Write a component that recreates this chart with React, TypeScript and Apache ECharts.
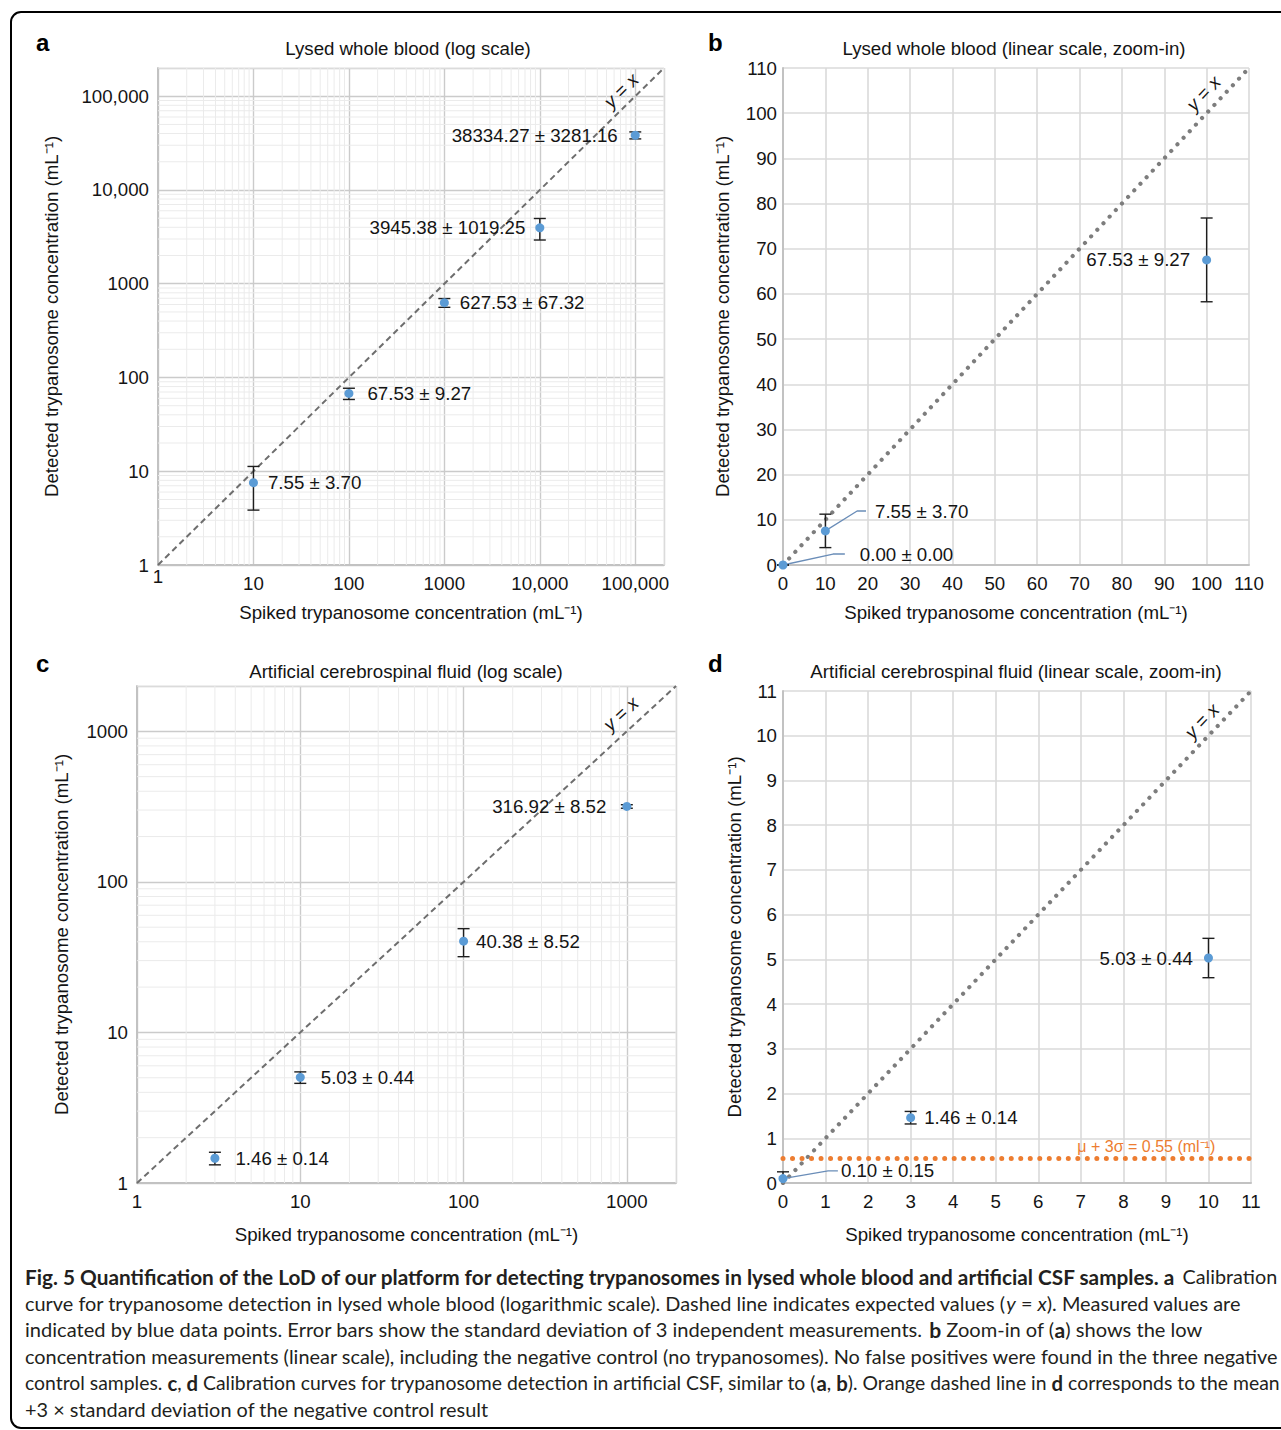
import React, { useEffect, useRef } from 'react';
import * as echarts from 'echarts';

const W = 1281;
const H = 1430;
const FONT = '"Liberation Sans", Arial, Helvetica, sans-serif';
const CAPTION_FONT = 'Lato, "Noto Sans", sans-serif';
const FS = 18.7;

// ---------------- data ----------------
// a: lysed whole blood, log scale
const bloodLogSpiked = [10, 100, 1000, 10000, 100000];
const bloodLogMean = [7.55, 67.53, 627.53, 3945.38, 38334.27];
const bloodLogSd = [3.7, 9.27, 67.32, 1019.25, 3281.16];
// b: lysed whole blood, linear zoom-in
const bloodLinSpiked = [0, 10, 100];
const bloodLinMean = [0.0, 7.55, 67.53];
const bloodLinSd = [0.0, 3.7, 9.27];
// c: artificial CSF, log scale
const csfLogSpiked = [3, 10, 100, 1000];
const csfLogMean = [1.46, 5.03, 40.38, 316.92];
const csfLogSd = [0.14, 0.44, 8.52, 8.52];
// d: artificial CSF, linear zoom-in
const csfLinSpiked = [0, 3, 10];
const csfLinMean = [0.1, 1.46, 5.03];
const csfLinSd = [0.15, 0.14, 0.44];
const csfThreshold = 0.55;

// axis ranges / ticks
const bloodLogRange = [1, 200000];
const bloodLinRange = [0, 110];
const csfLogRange = [1, 2000];
const csfLinRange = [0, 11];
const bloodLinStep = 10;
const csfLinStep = 1;

// texts
const panelLetters = ['a', 'b', 'c', 'd'];
const panelTitles = [
  'Lysed whole blood (log scale)',
  'Lysed whole blood (linear scale, zoom-in)',
  'Artificial cerebrospinal fluid (log scale)',
  'Artificial cerebrospinal fluid (linear scale, zoom-in)',
];
const xTitle = 'Spiked trypanosome concentration (mL\u207B\u00B9)';
const yTitle = 'Detected trypanosome concentration (mL\u207B\u00B9)';
const thresholdText = '\u03BC + 3\u03C3 = 0.55 (ml\u207B\u00B9)';
const captionLines = [
  '{b|Fig. 5 Quantification of the LoD of our platform for detecting trypanosomes in lysed whole blood and artificial CSF samples. a} Calibration',
  'curve for trypanosome detection in lysed whole blood (logarithmic scale). Dashed line indicates expected values ({i|y} = {i|x}). Measured values are',
  'indicated by blue data points. Error bars show the standard deviation of 3 independent measurements. {b|b} Zoom-in of ({b|a}) shows the low',
  'concentration measurements (linear scale), including the negative control (no trypanosomes). No false positives were found in the three negative',
  'control samples. {b|c}, {b|d} Calibration curves for trypanosome detection in artificial CSF, similar to ({b|a}, {b|b}). Orange dashed line in {b|d} corresponds to the mean',
  '+3 \u00D7 standard deviation of the negative control result',
];
// horizontal fit of each caption line (emulates the justified typesetting)
const captionFit = [0.995, 1, 1.01, 1, 0.974, 1];

// ---------------- layout / style config ----------------
const panels = [
  {
    kind: 'log', spiked: bloodLogSpiked, mean: bloodLogMean, sd: bloodLogSd, range: bloodLogRange, step: 0,
    grid: { left: 158, top: 68, width: 506, height: 497 },
    xNameGap: 38, yNameGap: 97, yLabelMargin: 9, raiseOrigin: true,
    sides: ['right', 'right', 'right', 'left', 'left'], dists: [10, 14, 11, 10, 13],
    diagAt: 90000, diagGap: 14, leaders: [] as any[],
    title: [408, 48], letter: [36, 42],
  },
  {
    kind: 'linear', spiked: bloodLinSpiked, mean: bloodLinMean, sd: bloodLinSd, range: bloodLinRange, step: bloodLinStep,
    grid: { left: 783, top: 68, width: 466, height: 497 },
    xNameGap: 38, yNameGap: 51, yLabelMargin: 6, raiseOrigin: false,
    sides: [null, null, 'left'], dists: [0, 0, 12],
    diagAt: 102, diagGap: 16,
    leaders: [
      { point: 0, bend: [11.8, 2.43], end: [14.6, 2.43], gap: 15, text: '0.00 \u00B1 0.00' },
      { point: 1, bend: [17.5, 11.95], end: [19.6, 11.95], gap: 9, text: '7.55 \u00B1 3.70' },
    ],
    title: [1014, 48], letter: [708, 42],
  },
  {
    kind: 'log', spiked: csfLogSpiked, mean: csfLogMean, sd: csfLogSd, range: csfLogRange, step: 0,
    grid: { left: 137, top: 686, width: 539, height: 497 },
    xNameGap: 42, yNameGap: 66, yLabelMargin: 9, raiseOrigin: false,
    sides: ['right', 'right', 'right', 'left'], dists: [16, 16, 8, 16],
    diagAt: 1080, diagGap: 17, leaders: [] as any[],
    title: [406, 671], letter: [36, 663],
  },
  {
    kind: 'linear', spiked: csfLinSpiked, mean: csfLinMean, sd: csfLinSd, range: csfLinRange, step: csfLinStep,
    grid: { left: 783, top: 691, width: 468, height: 492 },
    xNameGap: 42, yNameGap: 39, yLabelMargin: 6, raiseOrigin: false,
    sides: [null, 'right', 'left'], dists: [0, 9, 11],
    diagAt: 10.1, diagGap: 15,
    leaders: [{ point: 0, bend: [1.06, 0.27], end: [1.29, 0.27], gap: 3, text: '0.10 \u00B1 0.15' }],
    title: [1016, 671], letter: [708, 663],
  },
];

const BLUE = '#5b9bd5';
const INK = '#141414';

const logFmt = (v: number) => {
  const r = Math.round(v);
  if (r <= 0) return '';
  const e = Math.log10(r);
  if (Math.abs(e - Math.round(e)) > 1e-9) return '';
  return r >= 10000 ? r.toLocaleString('en-US') : String(r);
};

function minorValues(range: number[]) {
  const out: number[] = [];
  for (let d = 0; Math.pow(10, d) < range[1]; d++) {
    for (let k = 2; k <= 9; k++) {
      const v = k * Math.pow(10, d);
      if (v > range[0] && v <= range[1]) out.push(v);
    }
  }
  return out;
}

function buildOption() {
  const series: any[] = [];
  const xAxes: any[] = [];
  const yAxes: any[] = [];
  const grids: any[] = [];

  panels.forEach((P, i) => {
    const isLog = P.kind === 'log';
    grids.push({ ...P.grid, containLabel: false, outerBoundsMode: 'none' });
    const axisBase = (dim: 'x' | 'y') => {
      const a: any = {
        type: isLog ? 'log' : 'value',
        gridIndex: i,
        min: P.range[0],
        max: P.range[1],
        axisLine: { show: true, onZero: false, lineStyle: { color: '#c2c2c2', width: 2 } },
        axisTick: { show: false },
        splitLine: { show: true, lineStyle: { color: isLog ? '#cbcbcb' : '#dadada', width: isLog ? 1.4 : 1.6 } },
        axisLabel: {
          fontSize: FS, color: INK, fontFamily: FONT,
          margin: dim === 'x' ? 9 : P.yLabelMargin,
          showMinLabel: true, showMaxLabel: true,
        },
        name: dim === 'x' ? xTitle : yTitle,
        nameLocation: 'middle',
        nameGap: dim === 'x' ? P.xNameGap : P.yNameGap,
        nameTextStyle: { fontSize: FS, color: INK, fontFamily: FONT },
        nameMoveOverlap: false,
      };
      if (isLog) {
        a.logBase = 10;
        if (dim === 'x' && P.raiseOrigin) {
          a.axisLabel.formatter = (v: number) => {
            const s = logFmt(v);
            return Math.round(v) === 1 ? `{lo|${s}}` : s;
          };
          a.axisLabel.rich = { lo: { lineHeight: 4, fontSize: FS, fontFamily: FONT, color: INK } };
        } else {
          a.axisLabel.formatter = logFmt;
        }
      } else {
        a.interval = P.step;
      }
      return a;
    };
    xAxes.push(axisBase('x'));
    yAxes.push(axisBase('y'));

    const ax = { xAxisIndex: i, yAxisIndex: i };

    // minor grid lines for log panels
    if (isLog) {
      const mv = minorValues(P.range);
      const data = [
        ...mv.map((v) => [v, P.range[0], 0]),
        ...mv.map((v) => [P.range[0], v, 1]),
      ];
      series.push({
        type: 'custom', ...ax, silent: true, z: 1,
        encode: { x: 0, y: 1 },
        data,
        renderItem: (params: any, api: any) => {
          const cs = params.coordSys;
          const p = api.coord([api.value(0), api.value(1)]);
          const vertical = api.value(2) === 0;
          const shape = vertical
            ? { x1: p[0], y1: cs.y, x2: p[0], y2: cs.y + cs.height }
            : { x1: cs.x, y1: p[1], x2: cs.x + cs.width, y2: p[1] };
          return { type: 'line', shape, style: { stroke: '#ebebeb', lineWidth: 1 }, silent: true };
        },
      });
    }

    // y = x reference line
    series.push({
      type: 'line', ...ax, silent: true, z: 2, symbol: 'none',
      data: [[P.range[0], P.range[0]], [P.range[1], P.range[1]]],
      lineStyle: isLog
        ? { color: '#6e6e6e', width: 2, type: [6, 4] }
        : { color: '#7d7d7d', width: 4.2, type: [0.01, 9], cap: 'round' },
    });

    // leader lines
    P.leaders.forEach((L: any) => {
      series.push({
        type: 'line', ...ax, silent: true, z: 3, symbol: 'none',
        data: [[P.spiked[L.point], P.mean[L.point]], L.bend, L.end],
        lineStyle: { color: '#6a8db8', width: 1.3 },
      });
    });

    // threshold line (panel d)
    if (i === 3) {
      series.push({
        type: 'line', ...ax, silent: true, z: 2, symbol: 'none',
        data: [[P.range[0], csfThreshold], [P.range[1], csfThreshold]],
        lineStyle: { color: '#ed7d31', width: 5, type: [0.01, 9.5], cap: 'round' },
      });
    }

    // error bars
    const clampMin = P.range[0];
    series.push({
      type: 'custom', ...ax, z: 4, silent: true,
      encode: { x: 0, y: 1 },
      data: P.spiked.map((x, k) => [x, P.mean[k], P.sd[k]]),
      renderItem: (params: any, api: any) => {
        const x = api.value(0);
        const y = api.value(1);
        const e = api.value(2);
        const loRaw = y - e;
        const lo = Math.max(loRaw, clampMin);
        const pH = api.coord([x, y + e]);
        const pL = api.coord([x, lo]);
        const w = 6;
        const st = { stroke: '#1e1e1e', lineWidth: 1.4 };
        const children: any[] = [
          { type: 'line', shape: { x1: pH[0], y1: pH[1], x2: pL[0], y2: pL[1] }, style: st },
          { type: 'line', shape: { x1: pH[0] - w, y1: pH[1], x2: pH[0] + w, y2: pH[1] }, style: st },
        ];
        if (loRaw >= clampMin) {
          children.push({ type: 'line', shape: { x1: pL[0] - w, y1: pL[1], x2: pL[0] + w, y2: pL[1] }, style: st });
        }
        return { type: 'group', children };
      },
    });

    // points with value labels
    series.push({
      type: 'scatter', ...ax, z: 5, symbol: 'circle', symbolSize: 9,
      itemStyle: { color: BLUE, opacity: 1 },
      label: {
        show: false, fontSize: FS, color: INK, fontFamily: FONT,
        formatter: (p: any) => `${P.mean[p.dataIndex].toFixed(2)} \u00B1 ${P.sd[p.dataIndex].toFixed(2)}`,
      },
      data: P.spiked.map((x, k) => ({
        value: [x, P.mean[k]],
        label: P.sides[k] ? { show: true, position: P.sides[k], distance: P.dists[k] } : { show: false },
      })),
    });

    // annotation texts
    const notes: any[] = [];
    notes.push({ at: [P.diagAt, P.diagAt], text: '{i|y} = {i|x}', diag: true, gap: P.diagGap, color: INK, size: FS });
    P.leaders.forEach((L: any) => {
      notes.push({ at: L.end, text: L.text, dx: L.gap, dy: 0, align: 'left', color: INK, size: FS });
    });
    if (i === 3) {
      notes.push({ at: [10.16, csfThreshold], text: thresholdText, dx: 0, dy: -4, align: 'right', vAlign: 'bottom', color: '#ed7d31', size: 16 });
    }
    series.push({
      type: 'custom', ...ax, z: 6, silent: true,
      encode: { x: 0, y: 1 },
      data: notes.map((n) => n.at),
      renderItem: (params: any, api: any) => {
        const n = notes[params.dataIndex];
        const p = api.coord([api.value(0), api.value(1)]);
        let x = p[0] + (n.dx || 0);
        let y = p[1] + (n.dy || 0);
        let rotation = 0;
        if (n.diag) {
          const p1 = api.coord([P.range[0], P.range[0]]);
          const p2 = api.coord([P.range[1], P.range[1]]);
          const th = Math.atan2(p1[1] - p2[1], p2[0] - p1[0]);
          x = p[0] - n.gap * Math.sin(th);
          y = p[1] - n.gap * Math.cos(th);
          rotation = th;
        }
        const align = n.align || 'center';
        const vAlign = n.vAlign || 'middle';
        return {
          type: 'text', x, y, rotation,
          style: {
            text: n.text,
            rich: { i: { fontStyle: 'italic', fontSize: n.size, fontFamily: FONT, fill: n.color } },
            fontSize: n.size, fontFamily: FONT, fill: n.color,
            align, verticalAlign: vAlign, textAlign: align, textVerticalAlign: vAlign,
          },
        };
      },
    });
  });

  const graphics: any[] = [
    {
      type: 'rect', z: 0, silent: true,
      shape: { x: 11, y: 12, width: 1300, height: 1416, r: 10 },
      style: { fill: 'none', stroke: '#000', lineWidth: 2 },
    },
  ];
  panels.forEach((P, i) => {
    graphics.push({
      type: 'text', x: P.letter[0], y: P.letter[1], silent: true,
      style: {
        text: panelLetters[i], fontSize: 24, fontWeight: 'bold', fontFamily: FONT, fill: '#000',
        align: 'left', verticalAlign: 'middle', textAlign: 'left', textVerticalAlign: 'middle',
      },
    });
    graphics.push({
      type: 'text', x: P.title[0], y: P.title[1], silent: true,
      style: {
        text: panelTitles[i], fontSize: FS, fontFamily: FONT, fill: INK,
        align: 'center', verticalAlign: 'middle', textAlign: 'center', textVerticalAlign: 'middle',
      },
    });
  });
  const capSize = 19.9;
  const capBold = 20.9;
  captionLines.forEach((t, k) => {
    graphics.push({
      type: 'text', x: 25, y: 1276 + k * 26.6, silent: true, scaleX: captionFit[k],
      style: {
        text: t, fontSize: capSize, fontFamily: CAPTION_FONT, fill: '#231f20',
        rich: {
          b: { fontWeight: 'bold', fontSize: capBold, fontFamily: CAPTION_FONT, fill: '#231f20' },
          i: { fontStyle: 'italic', fontSize: capSize, fontFamily: CAPTION_FONT, fill: '#231f20' },
        },
        align: 'left', verticalAlign: 'middle', textAlign: 'left', textVerticalAlign: 'middle',
      },
    });
  });

  return {
    animation: false,
    backgroundColor: '#ffffff',
    textStyle: { fontFamily: FONT },
    grid: grids,
    xAxis: xAxes,
    yAxis: yAxes,
    series,
    graphic: { elements: graphics },
  };
}

export default function App() {
  const ref = useRef<HTMLDivElement>(null);
  useEffect(() => {
    if (!ref.current) return;
    const chart = echarts.init(ref.current, null, { renderer: 'svg' });
    chart.setOption(buildOption() as any);
    return () => chart.dispose();
  }, []);
  return (
    <div style={{ position: 'absolute', left: 0, top: 0, width: W, height: H, overflow: 'hidden', background: '#fff' }}>
      <div ref={ref} style={{ width: W, height: H }} />
    </div>
  );
}
